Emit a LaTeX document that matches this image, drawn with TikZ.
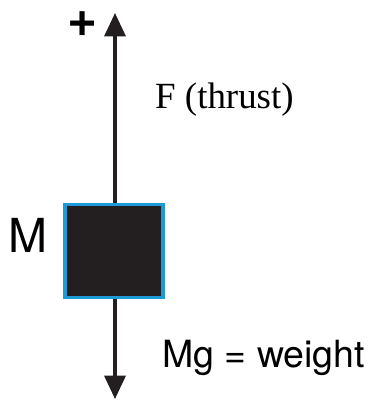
\documentclass[tikz,border=0pt]{standalone}
\usepackage{fontspec}
\setmainfont{Liberation Serif}
\setsansfont{TeX Gyre Heros}
\usetikzlibrary{arrows.meta,positioning}
\definecolor{massfill}{RGB}{35,31,32}
\definecolor{massedge}{RGB}{30,155,215}
\begin{document}
\begin{tikzpicture}[
  x=0.03cm, y=-0.03cm,
  >={Triangle[length=7mm, width=6.3mm]},
  every node/.style={inner sep=0pt},
  mass/.style={draw=massedge, line width=3pt, fill=massfill, minimum width=2.93cm, minimum height=2.78cm},
  force/.style={->, line width=2.8pt, color=massfill},
  sanslabel/.style={font=\sffamily\fontsize{32}{36}\selectfont},
  seriflabel/.style={font=\rmfamily\fontsize{31.5}{36}\selectfont}
]
\useasboundingbox (0,0) rectangle (368,401);

\node[mass] (block) at (114,251) {};
\coordinate (up) at (115,13);
\coordinate (down) at (115,399);

\draw[force] (block.north -| up) -- (up);
\draw[force] (block.south -| down) -- (down);

\node[font=\sffamily\bfseries\fontsize{44}{48}\selectfont] (plus) at (83,24) {+};
\node[seriflabel, anchor=base west] (thrust) at (155,109) {F (thrust)};
\node[sanslabel, anchor=base west] (weight) at (162,367) {Mg = weight};
\node[font=\sffamily\fontsize{40}{44}\selectfont, anchor=base west] (massname) at (8,252) {M};

\end{tikzpicture}
\end{document}
